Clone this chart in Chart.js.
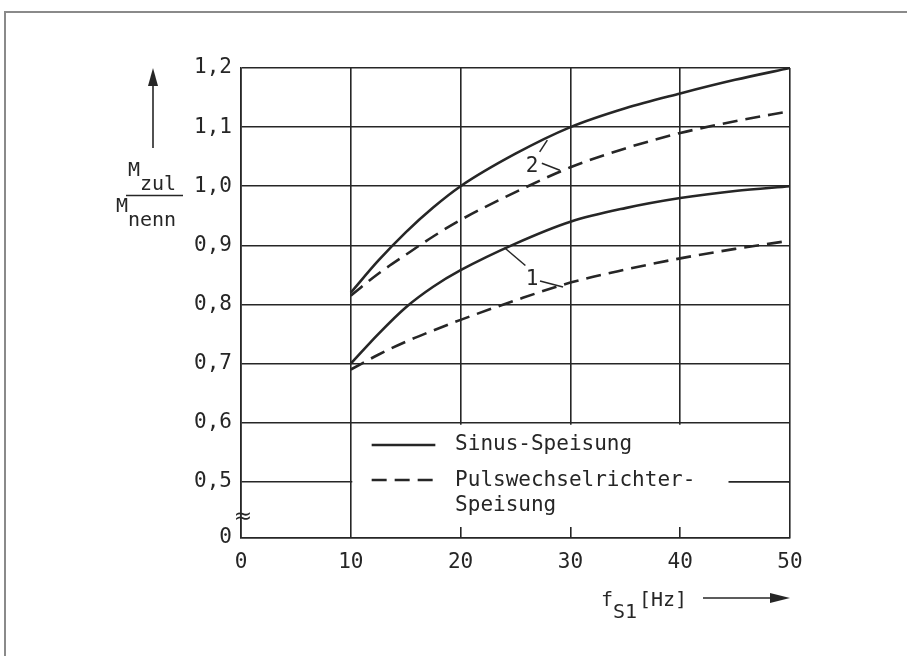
<!DOCTYPE html>
<html>
<head>
<meta charset="utf-8">
<script src="https://cdn.jsdelivr.net/npm/chart.js@4/dist/chart.umd.min.js"></script>
<style>
  html, body { margin: 0; padding: 0; background: #fff; }
  canvas { display: block; }
</style>
</head>
<body>
<canvas id="chart" width="907" height="656"></canvas>
<script>
// data
const freq = [10, 12.5, 15, 17.5, 20, 25, 30, 35, 40, 45, 50];
const sinus2 = [0.82, 0.874, 0.922, 0.964, 1.0, 1.055, 1.1, 1.132, 1.157, 1.18, 1.2];
const pwr2 = [0.815, 0.852, 0.884, 0.915, 0.943, 0.99, 1.032, 1.064, 1.09, 1.11, 1.127];
const sinus1 = [0.7, 0.75, 0.795, 0.83, 0.858, 0.903, 0.94, 0.963, 0.98, 0.992, 1.0];
const pwr1 = [0.69, 0.715, 0.737, 0.756, 0.774, 0.807, 0.837, 0.859, 0.878, 0.894, 0.908];
const yTicks = [0.5, 0.6, 0.7, 0.8, 0.9, 1.0, 1.1, 1.2];
const yBreak = 0.405; // bottom of the broken axis, labelled "0"
const legendLabels = ["Sinus-Speisung", "Pulswechselrichter-", "Speisung"];

const INK = "#262626";
const FONT = "21px 'DejaVu Sans Mono', monospace";

function pts(ys) {
  return freq.map((f, i) => ({ x: f, y: ys[i] }));
}

function curve(ys, dashed) {
  return {
    data: pts(ys),
    borderColor: INK,
    borderWidth: 2.6,
    borderDash: dashed ? [15, 8] : [],
    pointRadius: 0,
    cubicInterpolationMode: "monotone",
    fill: false,
  };
}

// legend box, labels, arrows, frame
const extras = {
  id: "extras",
  beforeDraw(chart) {
    const c = chart.ctx;
    c.save();
    c.strokeStyle = "#8a8a8a";
    c.lineWidth = 2;
    c.beginPath();
    c.moveTo(5, 656);
    c.lineTo(5, 12);
    c.lineTo(907, 12);
    c.stroke();
    c.restore();
  },
  afterDatasetsDraw(chart) {
    const c = chart.ctx;
    const xs = chart.scales.x, ys = chart.scales.y;
    const X = (v) => xs.getPixelForValue(v);
    const Y = (v) => ys.getPixelForValue(v);

    c.save();
    // white legend area inside the plot
    c.fillStyle = "#fff";
    const bx0 = X(10) + 1.5, bx1 = X(50) - 1.5;
    const by0 = Y(0.6) + 2, by1 = Y(yBreak) - 11;
    c.fillRect(bx0, by0, bx1 - bx0, by1 - by0);

    c.strokeStyle = INK;
    c.lineWidth = 1.6;
    c.beginPath();
    c.moveTo(X(44.4), Y(0.5));
    c.lineTo(X(50), Y(0.5));
    c.stroke();

    // legend samples
    c.lineWidth = 2.6;
    c.beginPath();
    c.moveTo(X(11.9), Y(0.5623));
    c.lineTo(X(17.7), Y(0.5623));
    c.stroke();
    c.setLineDash([15, 8]);
    c.beginPath();
    c.moveTo(X(11.9), Y(0.503));
    c.lineTo(X(17.7), Y(0.503));
    c.stroke();
    c.setLineDash([]);

    c.fillStyle = INK;
    c.font = FONT;
    c.textBaseline = "middle";
    c.textAlign = "left";
    c.fillText(legendLabels[0], X(19.5), Y(0.5623));
    c.fillText(legendLabels[1], X(19.5), Y(0.503));
    c.fillText(legendLabels[2], X(19.5), Y(0.503) + 25);

    // curve labels with leader lines
    c.textAlign = "center";
    c.fillText("2", X(26.5), Y(1.0325));
    c.fillText("1", X(26.5), Y(0.8414));
    c.lineWidth = 1.5;
    const leaders = [
      [27.2, 1.058, 27.9, 1.078],
      [27.4, 1.039, 29.04, 1.027],
      [24.0, 0.896, 25.9, 0.866],
      [27.23, 0.8397, 29.33, 0.8296],
    ];
    leaders.forEach(([x0, y0, x1, y1]) => {
      c.beginPath();
      c.moveTo(X(x0), Y(y0));
      c.lineTo(X(x1), Y(y1));
      c.stroke();
    });

    // axis break mark
    c.font = "22px 'DejaVu Sans', sans-serif";
    c.fillText("\u2248", X(0) + 2, Y(0.44));

    // y axis title: arrow + fraction
    c.lineWidth = 1.6;
    c.beginPath();
    c.moveTo(153, 148);
    c.lineTo(153, 82);
    c.stroke();
    c.beginPath();
    c.moveTo(153, 68);
    c.lineTo(148, 86);
    c.lineTo(158, 86);
    c.closePath();
    c.fill();

    c.textAlign = "left";
    c.textBaseline = "alphabetic";
    c.font = "20px 'DejaVu Sans Mono', monospace";
    c.fillText("M", 128, 176);
    c.fillText("zul", 140, 190);
    c.fillText("M", 116, 212);
    c.fillText("nenn", 128, 226);
    c.beginPath();
    c.moveTo(126, 195.5);
    c.lineTo(183, 195.5);
    c.stroke();

    // x axis title + arrow
    c.fillText("f", 601, 606);
    c.fillText("S1", 613, 618);
    c.fillText("[Hz]", 639, 606);
    c.beginPath();
    c.moveTo(703, 598);
    c.lineTo(776, 598);
    c.stroke();
    c.beginPath();
    c.moveTo(790, 598);
    c.lineTo(770, 593);
    c.lineTo(770, 603);
    c.closePath();
    c.fill();
    c.restore();
  },
};

new Chart(document.getElementById("chart"), {
  type: "line",
  data: {
    datasets: [
      curve(sinus2, false),
      curve(pwr2, true),
      curve(sinus1, false),
      curve(pwr1, true),
    ],
  },
  options: {
    responsive: false,
    animation: false,
    layout: { padding: { left: 0, top: 68, right: 117, bottom: 0 } },
    plugins: { legend: { display: false }, tooltip: { enabled: false } },
    scales: {
      x: {
        type: "linear",
        min: 0,
        max: 50,
        ticks: {
          stepSize: 10,
          color: INK,
          padding: 12,
          font: { family: "'DejaVu Sans Mono', monospace", size: 21 },
        },
        grid: { color: INK, lineWidth: 1.6, drawTicks: false },
        border: { color: INK, width: 1.6 },
        afterFit(scale) {
          scale.height = 118;
        },
      },
      y: {
        type: "linear",
        min: yBreak,
        max: 1.2,
        afterBuildTicks(scale) {
          scale.ticks = [yBreak, ...yTicks].map((v) => ({ value: v }));
        },
        ticks: {
          color: INK,
          padding: 9,
          font: { family: "'DejaVu Sans Mono', monospace", size: 21 },
          callback: (v) => (v < 0.45 ? "0" : v.toFixed(1).replace(".", ",")),
        },
        grid: { color: INK, lineWidth: 1.6, drawTicks: false },
        border: { color: INK, width: 1.6 },
        afterFit(scale) {
          scale.width = 241;
        },
      },
    },
  },
  plugins: [extras],
});
</script>
</body>
</html>
